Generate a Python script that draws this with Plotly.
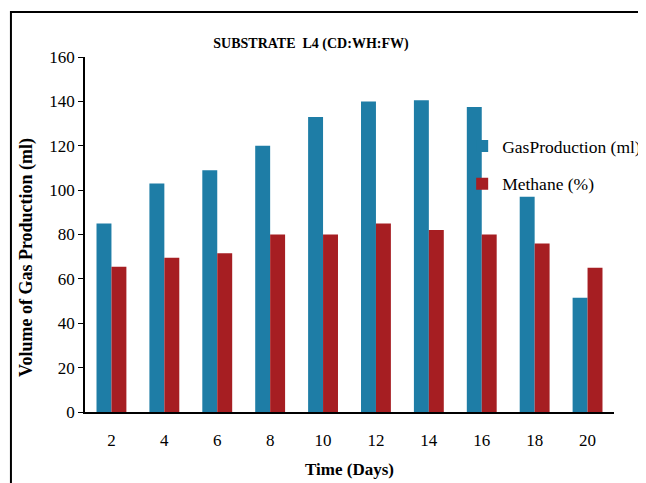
import plotly.graph_objects as go

days = ["2", "4", "6", "8", "10", "12", "14", "16", "18", "20"]
gas_production = [85, 103, 109, 120, 133, 140, 140.5, 137.5, 97, 51.5]
methane = [65.5, 69.5, 71.5, 80, 80, 85, 82, 80, 76, 65]
y_ticks = [0, 20, 40, 60, 80, 100, 120, 140, 160]

serif = "Liberation Serif"

fig = go.Figure()
fig.add_trace(go.Bar(x=days, y=gas_production, name="GasProduction (ml)", legendgroup="g",
                     marker=dict(color="#1E7DA6", line=dict(width=0))))
fig.add_trace(go.Bar(x=days, y=methane, name="Methane (%)", legendgroup="m",
                     marker=dict(color="#A61E22", line=dict(width=0))))

fig.update_layout(
    width=646, height=483,
    margin=dict(l=77, r=40, t=49, b=79, autoexpand=False),
    paper_bgcolor="white", plot_bgcolor="white",
    barmode="group", bargap=0.435, bargroupgap=0.0,
    title=dict(text="<b>SUBSTRATE  L4 (CD:WH:FW)</b>", x=0.469, xanchor="center",
               y=0.9275, yanchor="middle",
               font=dict(family=serif, size=14, color="black")),
    font=dict(family=serif, color="black"),
    legend=dict(x=0.713, y=0.80, xanchor="left", yanchor="top",
                font=dict(family=serif, size=17.5, color="black"),
                bgcolor="rgba(0,0,0,0)", itemwidth=30, tracegroupgap=12),
    showlegend=True,
    xaxis=dict(
        title=dict(text="<b>Time (Days)</b>", font=dict(family=serif, size=17), standoff=14),
        showline=True, linecolor="black", linewidth=1.5,
        ticks="", tickfont=dict(family=serif, size=17), ticklabelstandoff=12,
        showgrid=False, automargin=False,
    ),
    yaxis=dict(
        range=[0, 160], tickvals=y_ticks,
        showline=True, linecolor="black", linewidth=1.5,
        ticks="outside", ticklen=5, tickcolor="black",
        tickfont=dict(family=serif, size=17),
        showgrid=False, zeroline=False, automargin=False,
    ),
    annotations=[dict(text="<b>Volume of Gas Production (ml)</b>", textangle=-90,
                      xref="paper", yref="paper", x=-0.1096, y=0.434,
                      xanchor="center", yanchor="middle", showarrow=False,
                      font=dict(family=serif, size=18, color="black"))],
    shapes=[dict(type="rect", xref="paper", yref="paper",
                 x0=-0.14, x1=1.2, y0=-0.5, y1=1.127,
                 line=dict(color="black", width=2), fillcolor="rgba(0,0,0,0)", layer="below")],
)

fig.write_html("out.html")
